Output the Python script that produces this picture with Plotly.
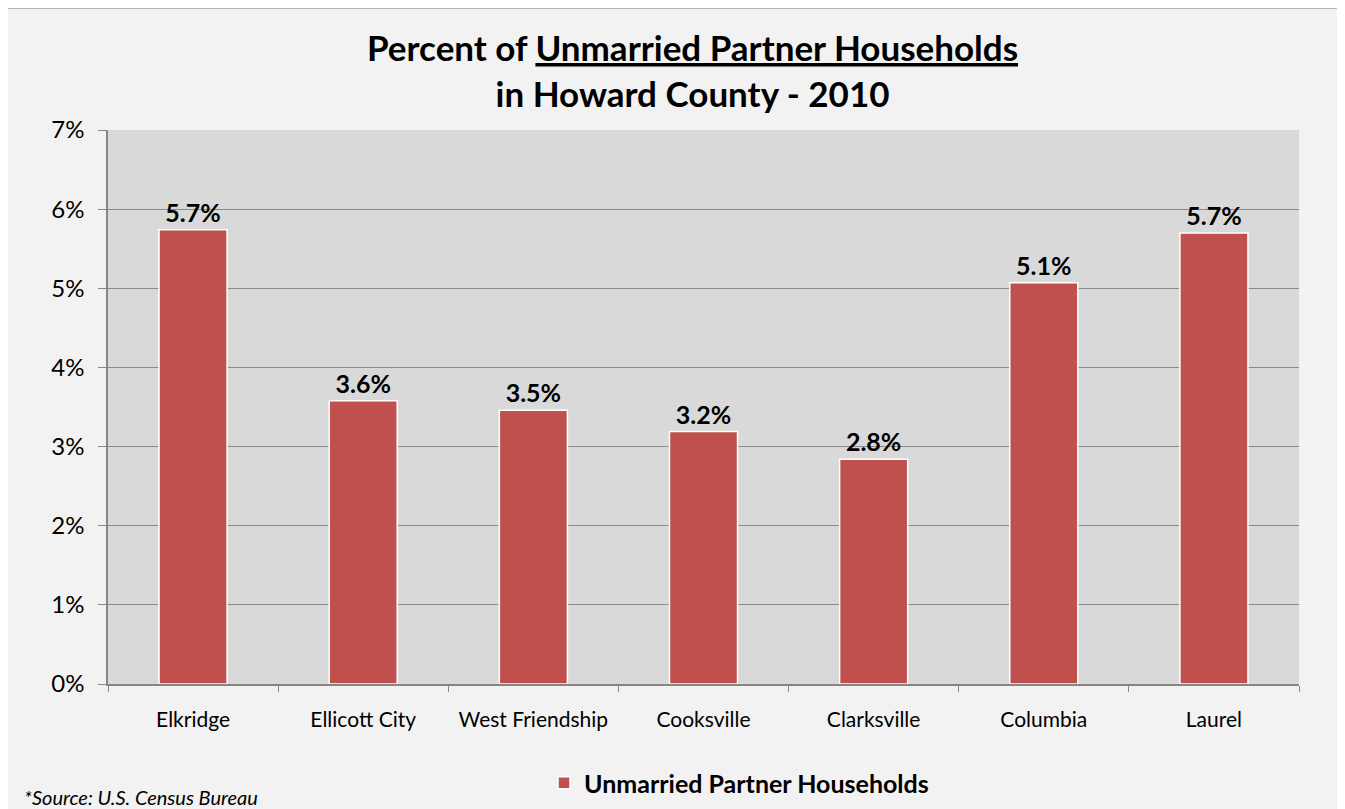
import plotly.graph_objects as go

categories = ["Elkridge", "Ellicott City", "West Friendship", "Cooksville",
              "Clarksville", "Columbia", "Laurel"]
values = [5.74, 3.58, 3.46, 3.19, 2.84, 5.07, 5.70]
y_ticks = [0, 1, 2, 3, 4, 5, 6, 7]
y_tick_labels = [f"{v}%" for v in y_ticks]
series_name = "Unmarried Partner Households"

FONT = "Lato"
BAR = "#c0504d"
GRID = "#8a8a8a"

# page has 8px body margin; work in reference pixel coords
OFF = 8
W, H = 1345 - OFF, 809 - OFF
L_ref, R_ref, T_ref, B_ref = 108, 1299, 130, 684
L = L_ref - OFF
T = T_ref - OFF
R = W - (R_ref - OFF)
B = H - (B_ref - OFF)
pw, ph = W - L - R, H - T - B


def px(x):
    return (x - L_ref) / pw


def py(y):
    return (B_ref - y) / ph


fig = go.Figure()
fig.add_trace(go.Bar(
    x=categories, y=values, name=series_name,
    marker=dict(color=BAR, line=dict(color="white", width=1.5)),
    width=0.4,
    text=[f"{v:.1f}%" for v in values],
    textposition="outside",
    textfont=dict(family=FONT, size=25, color="black", weight="bold"),
    cliponaxis=False,
    showlegend=True,
))

fig.add_shape(type="rect", xref="paper", yref="paper",
              x0=px(6), x1=px(1342), y0=py(830), y1=py(8),
              fillcolor="#f2f2f2", line=dict(color="#a0a0a0", width=1.5),
              layer="below")
fig.add_shape(type="rect", xref="paper", yref="paper",
              x0=0, x1=1, y0=0, y1=1,
              fillcolor="#d9d9d9", line=dict(width=0), layer="below")

fig.add_annotation(
    xref="paper", yref="paper", x=px(692), y=py(70), xanchor="center", yanchor="middle",
    text="<b>Percent of <u>Unmarried Partner Households</u><br>in Howard County - 2010</b>",
    showarrow=False, font=dict(family=FONT, size=35, color="black"),
)
fig.add_annotation(
    xref="paper", yref="paper", x=px(22), y=py(797), xanchor="left", yanchor="middle",
    text="<i>*Source: U.S. Census Bureau</i>",
    showarrow=False, font=dict(family=FONT, size=20, color="black"),
)

fig.update_layout(
    width=W, height=H,
    margin=dict(l=L, r=R, t=T, b=B, autoexpand=False),
    paper_bgcolor="white",
    plot_bgcolor="rgba(0,0,0,0)",
    bargap=0.6,
    font=dict(family=FONT, color="black"),
    legend=dict(orientation="h", x=px(544), y=py(783), xanchor="left", yanchor="middle",
                font=dict(family=FONT, size=25, color="black", weight="bold"),
                bgcolor="rgba(0,0,0,0)", itemwidth=30),
    xaxis=dict(
        tickson="boundaries", ticks="outside", ticklen=6, tickcolor="#868686",
        showline=True, linecolor="#868686", linewidth=1.5,
        tickfont=dict(family=FONT, size=21, color="black"),
        ticklabelstandoff=16,
        showgrid=False,
    ),
    yaxis=dict(
        range=[0, 7], tickvals=y_ticks, ticktext=y_tick_labels,
        ticks="outside", ticklen=8, tickcolor="#868686",
        showline=True, linecolor="#868686", linewidth=1.5,
        showgrid=True, gridcolor=GRID, gridwidth=1,
        tickfont=dict(family=FONT, size=24, color="black"),
        ticklabelstandoff=9,
        zeroline=False,
    ),
)

fig.write_html("out.html")
